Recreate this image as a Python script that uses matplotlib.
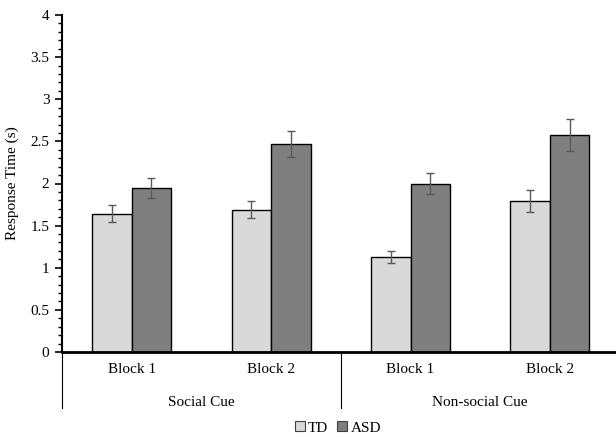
import matplotlib
matplotlib.use('Agg')
import matplotlib.pyplot as plt
import numpy as np
from matplotlib.patches import Patch
from matplotlib.ticker import MultipleLocator

plt.rcParams['font.family'] = ['Liberation Serif', 'DejaVu Serif']

# data
groups = ['Social Cue', 'Non-social Cue']
blocks = ['Block 1', 'Block 2', 'Block 1', 'Block 2']
td_mean = [1.64, 1.69, 1.13, 1.79]
asd_mean = [1.95, 2.47, 2.00, 2.57]
td_err = [0.10, 0.10, 0.07, 0.13]
asd_err = [0.12, 0.15, 0.13, 0.19]

fig = plt.figure(figsize=(6.16, 4.37), dpi=100)
ax = fig.add_axes([62 / 616, 1 - 352 / 437, 557.6 / 616, 337 / 437])

x = np.arange(len(blocks))
w = 0.284
err_kw = dict(ecolor='#595959', elinewidth=1.0, capsize=3, capthick=1.0)
ax.bar(x - w / 2, td_mean, w, yerr=td_err, color='#d9d9d9', edgecolor='black',
       linewidth=1.0, error_kw=err_kw, label='TD', zorder=2)
ax.bar(x + w / 2, asd_mean, w, yerr=asd_err, color='#7f7f7f', edgecolor='black',
       linewidth=1.0, error_kw=err_kw, label='ASD', zorder=2)

ax.set_xlim(-0.5, 3.5)
ax.set_ylim(0, 4)
ax.yaxis.set_major_locator(MultipleLocator(0.5))
ax.yaxis.set_minor_locator(MultipleLocator(0.1))
ax.yaxis.set_major_formatter(plt.FuncFormatter(lambda v, p: '{:g}'.format(v)))
ax.tick_params(axis='y', which='major', length=5, width=1.2, labelsize=11, pad=4)
ax.tick_params(axis='y', which='minor', length=3, width=1.0)
ax.set_ylabel('Response Time (s)', fontsize=11, labelpad=8)

ax.set_xticks(x)
ax.set_xticklabels([])
ax.tick_params(axis='x', length=0)

for s in ['top', 'right']:
    ax.spines[s].set_visible(False)
ax.spines['left'].set_linewidth(1.5)
ax.spines['bottom'].set_linewidth(2.0)

trans = ax.get_xaxis_transform()
for i, b in enumerate(blocks):
    ax.text(x[i], -0.053, b, transform=trans, ha='center', va='center', fontsize=11)
for g, gx in zip(groups, [0.5, 2.5]):
    ax.text(gx, -0.151, g, transform=trans, ha='center', va='center', fontsize=11)
for sx in [-0.5, 1.5]:
    ax.plot([sx, sx], [0, -0.166], transform=trans, color='black', lw=0.8, clip_on=False)

handles = [Patch(facecolor='#d9d9d9', edgecolor='#404040', linewidth=0.8, label='TD'),
           Patch(facecolor='#7f7f7f', edgecolor='#404040', linewidth=0.8, label='ASD')]
fig.legend(handles=handles, loc='center', bbox_to_anchor=(338 / 616, 1 - 428 / 437), ncol=2,
           frameon=False, fontsize=11, handlelength=0.65, handleheight=0.65,
           handletextpad=0.2, columnspacing=0.6, borderpad=0)

fig.savefig('out.png', dpi=100)
